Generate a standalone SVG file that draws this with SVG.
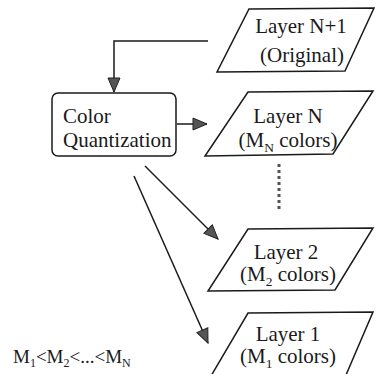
<svg xmlns="http://www.w3.org/2000/svg" width="379" height="374" viewBox="0 0 379 374">
<style>
.shape{fill:#fff;stroke:#1a1a1a;stroke-width:1.5}
.t{font-family:'Liberation Serif','Times New Roman','DejaVu Serif',serif;font-size:21px;fill:#1a1a1a}
.m{text-anchor:middle}
.sub{font-size:13.5px}
.line{fill:none;stroke:#1a1a1a;stroke-width:1.5}
.dots{fill:none;stroke:#555;stroke-width:3;stroke-dasharray:3 3}
</style>
<defs>
<marker id="ah" viewBox="0 0 16 14" refX="15" refY="7" markerWidth="16" markerHeight="14" markerUnits="userSpaceOnUse" orient="auto">
<path d="M1,1 L15,7 L1,13 Z" fill="#555" stroke="#222" stroke-width="1"/>
</marker>
</defs>
<rect width="379" height="374" fill="#fff"/>
<g id="connectors">
<path class="line" d="M208,41 H114 V92" marker-end="url(#ah)"/>
<path class="line" d="M177,124 H207" marker-end="url(#ah)"/>
<path class="line" d="M145,166 L218,239" marker-end="url(#ah)"/>
<path class="line" d="M134,176 L208,343" marker-end="url(#ah)"/>
<path class="dots" d="M279,164 V212"/>
</g>
<g id="layerN1">
<polygon class="shape" points="249,9 374,8 345,71 217,72"/>
<text class="t m" x="301" y="33">Layer N+1</text>
<text class="t m" x="302" y="62">(Original)</text>
</g>
<g id="quant">
<rect class="shape" x="52" y="93" width="124" height="63" rx="6"/>
<text class="t" x="63" y="123">Color</text>
<text class="t" x="63" y="147">Quantization</text>
</g>
<g id="layerN">
<polygon class="shape" points="248,92 373,91 333,154 205,156"/>
<text class="t m" x="288" y="123">Layer N</text>
<text class="t m" x="288" y="147">(M<tspan class="sub" dy="5">N</tspan><tspan dy="-5"> colors)</tspan></text>
</g>
<g id="layer2">
<polygon class="shape" points="248,229 373,228 335,290 208,291"/>
<text class="t m" x="286" y="259">Layer 2</text>
<text class="t m" x="288" y="281">(M<tspan class="sub" dy="5">2</tspan><tspan dy="-5"> colors)</tspan></text>
</g>
<g id="layer1">
<polygon class="shape" points="248,313 373,312 346,375 211,376"/>
<text class="t m" x="288" y="341">Layer 1</text>
<text class="t m" x="288" y="363">(M<tspan class="sub" dy="5">1</tspan><tspan dy="-5"> colors)</tspan></text>
</g>
<g id="note">
<text class="t" x="13" y="363" style="font-size:19px">M<tspan class="sub" style="font-size:12px" dy="4">1</tspan><tspan dy="-4">&lt;M</tspan><tspan class="sub" style="font-size:12px" dy="4">2</tspan><tspan dy="-4">&lt;...&lt;M</tspan><tspan class="sub" style="font-size:12px" dy="4">N</tspan></text>
</g>
</svg>
